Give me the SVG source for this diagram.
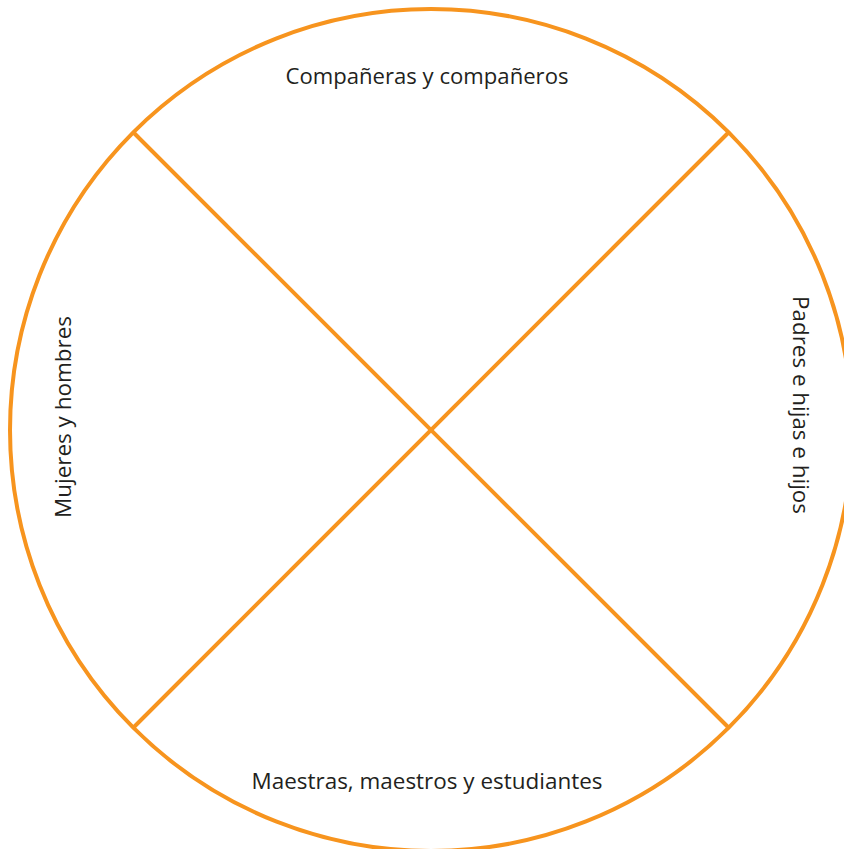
<svg xmlns="http://www.w3.org/2000/svg" width="844" height="849" viewBox="0 0 844 849">
<style>
.ln{fill:none;stroke:#F7941E;stroke-width:4}
.t{font-family:"Open Sans","Noto Sans",sans-serif;font-size:21px;fill:#231F20}
</style>
<rect width="844" height="849" fill="#fff"/>
<g id="connectors">
<circle class="ln" cx="431" cy="430" r="421"/>
<line class="ln" x1="134" y1="133" x2="728" y2="727"/>
<line class="ln" x1="728" y1="133" x2="134" y2="727"/>
</g>
<g id="top"><text class="t" x="427" y="84" text-anchor="middle" textLength="283" lengthAdjust="spacingAndGlyphs">Compañeras y compañeros</text></g>
<g id="bottom"><text class="t" x="427" y="789" text-anchor="middle" textLength="351" lengthAdjust="spacingAndGlyphs">Maestras, maestros y estudiantes</text></g>
<g id="left"><text class="t" transform="translate(71,417) rotate(-90)" text-anchor="middle" textLength="202" lengthAdjust="spacingAndGlyphs">Mujeres y hombres</text></g>
<g id="right"><text class="t" transform="translate(793,405) rotate(90)" text-anchor="middle" textLength="218" lengthAdjust="spacingAndGlyphs">Padres e hijas e hijos</text></g>
</svg>
